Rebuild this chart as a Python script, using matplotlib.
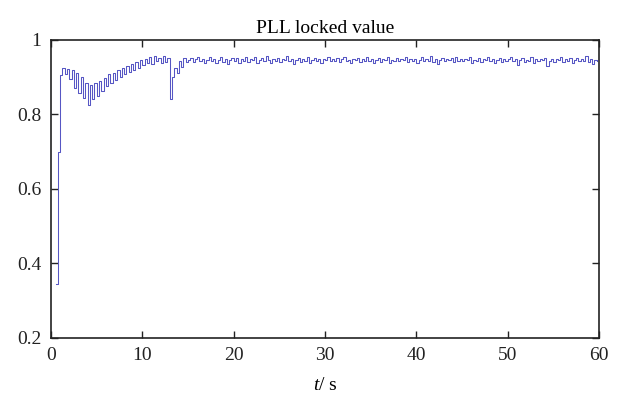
import numpy as np
import matplotlib
matplotlib.use("Agg")
import matplotlib.pyplot as plt
from matplotlib.ticker import FuncFormatter

# =========================
# Style
# =========================
plt.rcParams.update({
    "font.family": ["Liberation Serif", "DejaVu Serif"],
    "font.size": 14,
    "mathtext.fontset": "custom",
    "mathtext.rm": "Liberation Serif",
    "mathtext.it": "Liberation Serif:italic",
})

# =========================
# Data (sample period 0.25 s, step hold)
# =========================
t_start = 0.5
t_step = 0.25

# start-up / lock acquisition, 0.5 s .. 14.75 s
lock_startup = [
    0.345, 0.700,
    0.905, 0.925, 0.908, 0.922, 0.895, 0.918, 0.872, 0.910,
    0.858, 0.900, 0.845, 0.885, 0.826, 0.878, 0.840, 0.885,
    0.848, 0.890, 0.862, 0.898, 0.875, 0.908, 0.885, 0.912,
    0.892, 0.918, 0.900, 0.925, 0.908, 0.930, 0.915, 0.935,
    0.918, 0.940, 0.925, 0.945, 0.932, 0.950, 0.938, 0.954,
    0.935, 0.956, 0.942, 0.952, 0.938, 0.956, 0.940, 0.952,
    0.840, 0.900, 0.925, 0.910, 0.942, 0.928, 0.952, 0.940,
]

# steady state, 15 s .. 59.75 s
lock_steady = [
    0.945, 0.952, 0.940, 0.948, 0.955, 0.942, 0.950, 0.937, 0.947, 0.953,
    0.944, 0.950, 0.938, 0.946, 0.954, 0.941, 0.949, 0.935, 0.945, 0.952,
    0.943, 0.951, 0.938, 0.948, 0.944, 0.955, 0.940, 0.949, 0.946, 0.953,
    0.939, 0.947, 0.951, 0.942, 0.956, 0.945, 0.937, 0.950, 0.944, 0.952,
    0.941, 0.949, 0.945, 0.957, 0.943, 0.950, 0.936, 0.946, 0.952, 0.940,
    0.948, 0.944, 0.954, 0.939, 0.947, 0.951, 0.943, 0.949, 0.938, 0.950,
    0.946, 0.953, 0.942, 0.949, 0.944, 0.951, 0.940, 0.948, 0.954, 0.943,
    0.947, 0.939, 0.950, 0.945, 0.952, 0.941, 0.948, 0.943, 0.955, 0.944,
    0.949, 0.938, 0.946, 0.952, 0.941, 0.950, 0.945, 0.953, 0.937, 0.947,
    0.944, 0.951, 0.942, 0.949, 0.946, 0.954, 0.940, 0.948, 0.943, 0.950,
    0.939, 0.947, 0.953, 0.942, 0.950, 0.944, 0.956, 0.941, 0.948, 0.936,
    0.946, 0.952, 0.943, 0.949, 0.945, 0.951, 0.940, 0.955, 0.944, 0.948,
    0.942, 0.950, 0.946, 0.953, 0.938, 0.947, 0.944, 0.951, 0.940, 0.949,
    0.945, 0.954, 0.943, 0.948, 0.937, 0.946, 0.952, 0.941, 0.950, 0.944,
    0.948, 0.955, 0.942, 0.949, 0.933, 0.945, 0.951, 0.940, 0.947, 0.944,
    0.953, 0.939, 0.950, 0.943, 0.948, 0.946, 0.952, 0.931, 0.944, 0.950,
    0.941, 0.949, 0.945, 0.954, 0.940, 0.948, 0.943, 0.951, 0.938, 0.947,
    0.952, 0.942, 0.950, 0.944, 0.957, 0.940, 0.948, 0.936, 0.945, 0.942,
]

lock_value = np.array(lock_startup + lock_steady)
t = t_start + t_step * np.arange(len(lock_value))

x_ticks = [0, 10, 20, 30, 40, 50, 60]
y_ticks = [0.2, 0.4, 0.6, 0.8, 1.0]

# =========================
# Plot
# =========================
fig = plt.figure(figsize=(6.22, 3.95), dpi=100)
ax = fig.add_axes([0.082, 0.145, 0.881, 0.754])

ax.step(t, lock_value, where="post", color="#5656c4", linewidth=0.75)

ax.set_xlim(0, 60)
ax.set_ylim(0.2, 1.0)
ax.set_xticks(x_ticks)
ax.set_yticks(y_ticks)
ax.yaxis.set_major_formatter(FuncFormatter(lambda v, _: f"{v:g}"))
ax.tick_params(direction="in", top=True, right=True, length=5,
               width=1.0, pad=7, colors="#222222", labelsize=14)
for sp in ax.spines.values():
    sp.set_linewidth(1.2)
    sp.set_color("#222222")

ax.set_title("PLL locked value", fontsize=14, pad=5)
ax.set_xlabel(r"$t$/ s", fontsize=14, labelpad=9)

fig.savefig("out.png", dpi=100)
